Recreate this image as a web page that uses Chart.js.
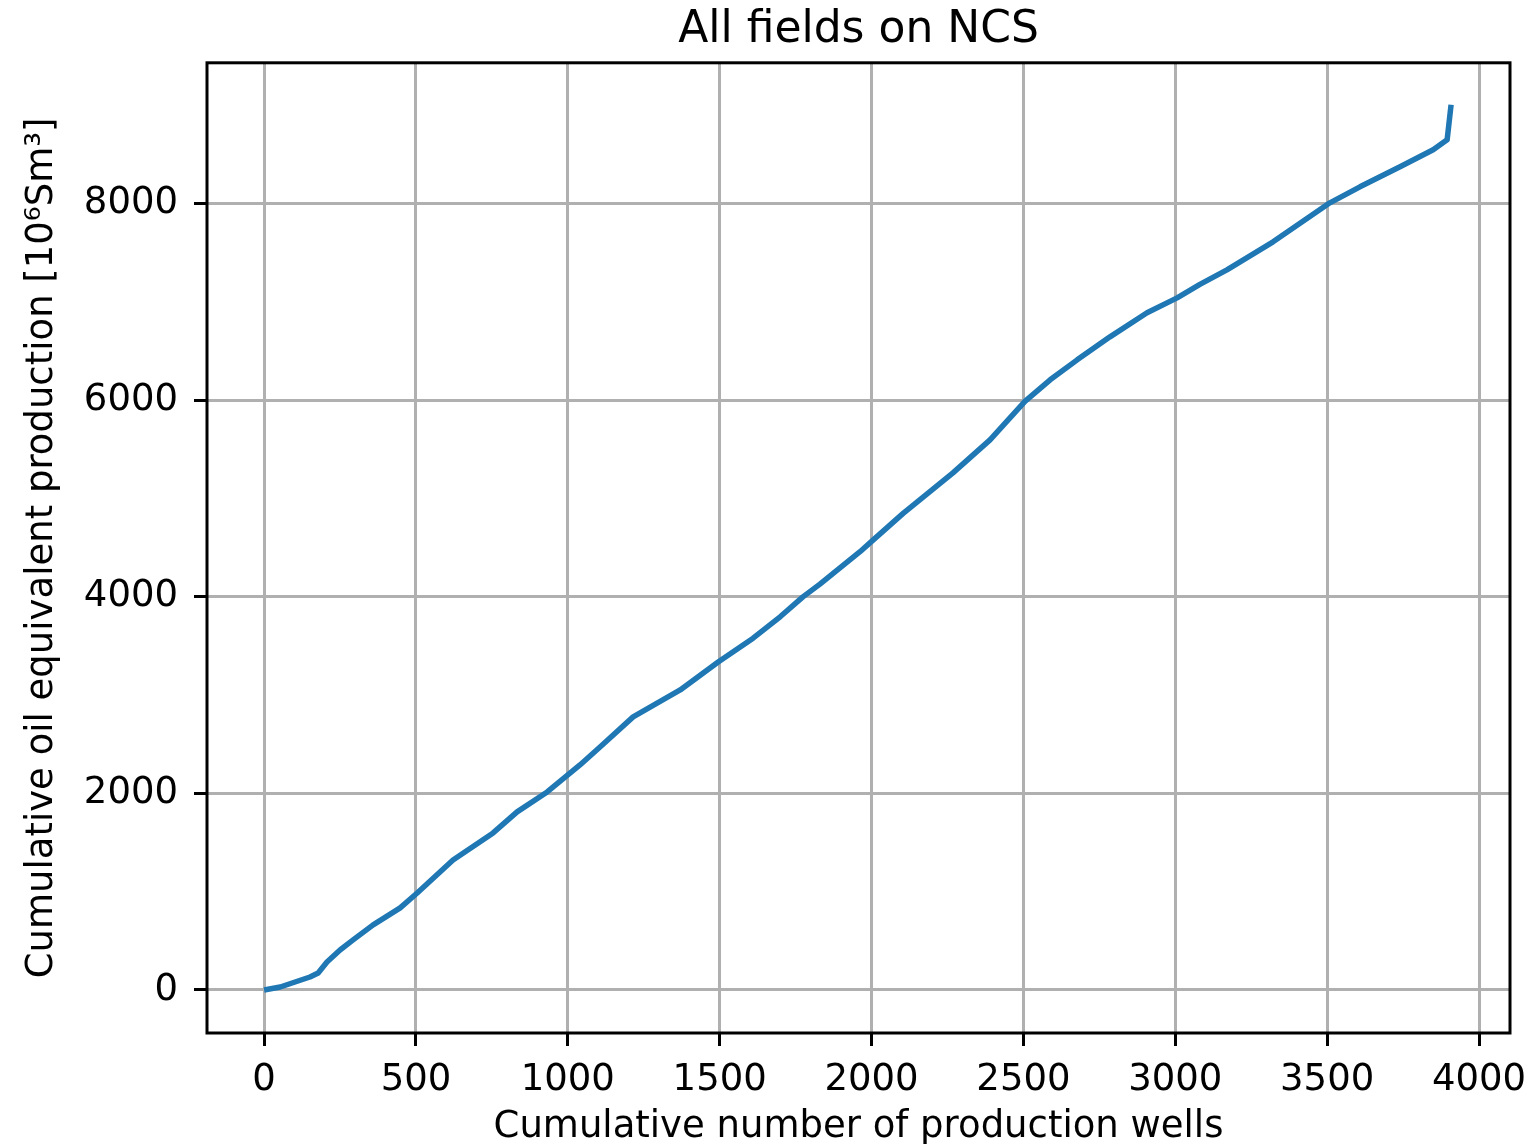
<!DOCTYPE html>
<html>
<head>
<meta charset="utf-8">
<script src="https://cdn.jsdelivr.net/npm/chart.js@4/dist/chart.umd.min.js"></script>
<style>
    body { margin: 0; background: #fff; }
    #wrap { width: 1534px; height: 1144px; }
</style>
</head>
<body>
<div id="wrap"><canvas id="wellsChart" width="1534" height="1144"></canvas></div>
<script>
// cumulative production wells vs cumulative o.e. production
const wells = [0, 53, 151, 178, 207, 250, 293, 359, 448, 504, 622, 754, 833, 932, 1040, 1106, 1215, 1370, 1495, 1610, 1700, 1774, 1830, 1962, 2002, 2104, 2268, 2390, 2505, 2588, 2677, 2785, 2907, 3006, 3081, 3170, 3322, 3509, 3608, 3740, 3849, 3895, 3908];
const production = [0, 30, 132, 173, 285, 407, 509, 662, 835, 987, 1323, 1598, 1812, 2015, 2290, 2473, 2779, 3053, 3338, 3580, 3800, 4000, 4130, 4460, 4570, 4850, 5262, 5598, 5990, 6209, 6412, 6646, 6891, 7043, 7180, 7328, 7613, 8010, 8173, 8377, 8550, 8651, 9008];

const xTicks = [0, 500, 1000, 1500, 2000, 2500, 3000, 3500, 4000];
const yTicks = [0, 2000, 4000, 6000, 8000];

const FONT = 'DejaVu Sans';

// box around the plot area
const frame = {
    id: 'frame',
    afterDraw(chart) {
        const { ctx, chartArea: a } = chart;
        ctx.save();
        ctx.strokeStyle = '#000';
        ctx.lineWidth = 3;
        ctx.strokeRect(a.left, a.top, a.right - a.left, a.bottom - a.top);
        ctx.restore();
    }
};

const gridOpts = {
    color: '#b0b0b0',
    lineWidth: 3,
    tickColor: '#000',
    tickWidth: 3,
    tickLength: 13
};

new Chart(document.getElementById('wellsChart'), {
    type: 'line',
    data: {
        datasets: [{
            data: wells.map((w, i) => ({ x: w, y: production[i] })),
            borderColor: '#1f77b4',
            borderWidth: 5.5,
            borderJoinStyle: 'round',
            pointRadius: 0,
            tension: 0,
            fill: false
        }]
    },
    options: {
        responsive: false,
        animation: false,
        layout: { padding: { left: 0, right: 24, top: 0, bottom: 0 } },
        plugins: {
            legend: { display: false },
            tooltip: { enabled: false },
            title: {
                display: true,
                text: 'All fields on NCS',
                color: '#000',
                fullSize: false,
                font: { family: FONT, size: 44, weight: 'normal' },
                padding: { top: 4, bottom: 6 }
            }
        },
        scales: {
            x: {
                type: 'linear',
                min: -188,
                max: 4102,
                afterBuildTicks: s => { s.ticks = xTicks.map(v => ({ value: v })); },
                afterFit: s => {
                    s.height = 111;
                    s.paddingLeft = 0;
                    s.paddingRight = 0;
                },
                grid: gridOpts,
                border: { display: false },
                ticks: {
                    color: '#000',
                    padding: 12,
                    maxRotation: 0,
                    font: { family: FONT, size: 37 },
                    callback: v => String(v)
                },
                title: {
                    display: true,
                    text: 'Cumulative number of production wells',
                    color: '#000',
                    font: { family: FONT, size: 37 },
                    padding: { top: 0, bottom: -6 }
                }
            },
            y: {
                type: 'linear',
                min: -438,
                max: 9435,
                afterBuildTicks: s => { s.ticks = yTicks.map(v => ({ value: v })); },
                afterFit: s => {
                    s.width = 207;
                    s.paddingTop = 0;
                    s.paddingBottom = 0;
                },
                grid: gridOpts,
                border: { display: false },
                ticks: {
                    color: '#000',
                    padding: 16,
                    font: { family: FONT, size: 37 },
                    callback: v => String(v)
                },
                title: {
                    display: true,
                    text: 'Cumulative oil equivalent production [10⁶Sm³]',
                    color: '#000',
                    font: { family: FONT, size: 37 },
                    padding: { top: 20, bottom: 0 }
                }
            }
        }
    },
    plugins: [frame]
});
</script>
</body>
</html>
